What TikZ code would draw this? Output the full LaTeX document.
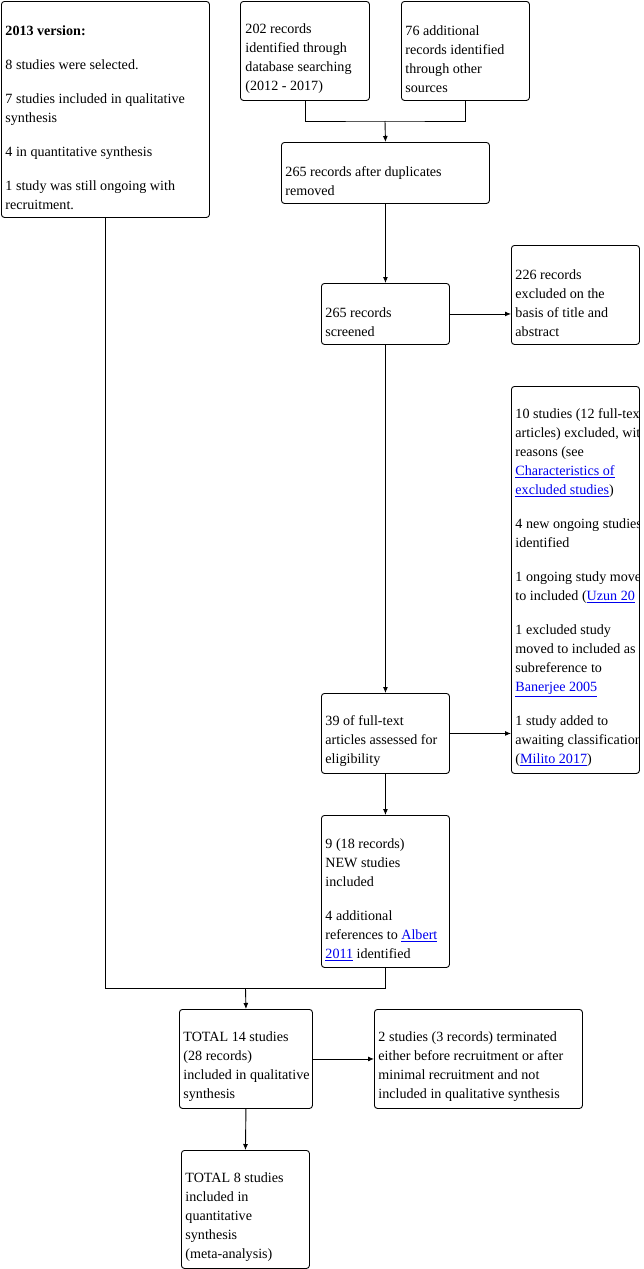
\documentclass[tikz,border=0pt]{standalone}
\usepackage{fontspec}
\setmainfont{Liberation Serif}
\usetikzlibrary{arrows.meta}
\definecolor{linkblue}{RGB}{0,0,238}
\newcommand{\reflink}[1]{{\color{linkblue}\underline{#1}}}

\begin{document}
\begin{tikzpicture}[x=1pt,y=-1pt,
                    box/.style={draw,rounded corners=3pt,anchor=north west,inner sep=0pt,line width=0.9pt},
                    txt/.style={anchor=west,inner sep=0pt,align=left,
                                font=\fontsize{14.1}{19}\selectfont},
                    arr/.style={-{Latex[length=6pt,width=5pt]},line width=0.9pt},
                    line width=0.9pt]
  \useasboundingbox (0,0) rectangle (643,1269);
  % boxes: top-left corner at pixel position, sizes in pixels
  \node[box,minimum width=208pt,minimum height=216pt] (ver)  at (1,1) {};
  \node[box,minimum width=129pt,minimum height=99pt]  (db)   at (240,1) {};
  \node[box,minimum width=128pt,minimum height=99pt]  (oth)  at (401,1) {};
  \node[box,minimum width=208pt,minimum height=61pt]  (dup)  at (281,142) {};
  \node[box,minimum width=128pt,minimum height=61pt]  (scr)  at (321,283) {};
  \node[box,minimum width=128pt,minimum height=99pt]  (exA)  at (511,245) {};
  \node[box,minimum width=128pt,minimum height=387pt] (exF)  at (511,386) {};
  \node[box,minimum width=128pt,minimum height=80pt]  (ft)   at (321,693) {};
  \node[box,minimum width=128pt,minimum height=152pt] (inc)  at (321,815) {};
  \node[box,minimum width=133pt,minimum height=99pt]  (qual) at (179,1009) {};
  \node[box,minimum width=208pt,minimum height=99pt]  (term) at (374,1009) {};
  \node[box,minimum width=128pt,minimum height=118pt] (quant) at (181,1150) {};

  % texts, a little below the middle of each box
  \node[txt] (verT) at ([shift={(4,8)}]ver.west) {\textbf{2013 version:}\\[15pt]
    8 studies were selected.\\[15pt]
    7 studies included in qualitative\\synthesis\\[15pt]
    4 in quantitative synthesis\\[15pt]
    1 study was still ongoing with\\recruitment.};
  \node[txt] (dbT)  at ([shift={(5,8)}]db.west) {202 records\\identified through\\database searching\\(2012 - 2017)};
  \node[txt] (othT) at ([shift={(4,8)}]oth.west) {76 additional\\records identified\\through other\\sources};
  \node[txt] (dupT) at ([shift={(4,8)}]dup.west) {265 records after duplicates\\removed};
  \node[txt] (scrT) at ([shift={(4,8)}]scr.west) {265 records\\screened};
  \node[txt] (exAT) at ([shift={(4,8)}]exA.west) {226 records\\excluded on the\\basis of title and\\abstract};
  \begin{scope}
    \clip (exF.north west) rectangle (exF.south east);
    \node[txt] (exFT) at ([shift={(4,8)}]exF.west) {10 studies (12 full-text\\articles) excluded, with\\reasons (see\\
      \reflink{Characteristics of}\\\reflink{excluded studies})\\[15pt]
      4 new ongoing studies\\identified\\[15pt]
      1 ongoing study moved\\to included (\reflink{Uzun 20}\\[15pt]
      1 excluded study\\moved to included as\\subreference to\\\reflink{Banerjee 2005}\\[15pt]
      1 study added to\\awaiting classification\\(\reflink{Milito 2017})};
  \end{scope}
  \node[txt] (ftT)  at ([shift={(4,8)}]ft.west) {39 of full-text\\articles assessed for\\eligibility};
  \node[txt] (incT) at ([shift={(4,8)}]inc.west) {9 (18 records)\\NEW studies\\included\\[15pt]
    4 additional\\references to \reflink{Albert}\\\reflink{2011} identified};
  \node[txt] (qualT) at ([shift={(4,8)}]qual.west) {TOTAL 14 studies\\(28 records)\\included in qualitative\\synthesis};
  \node[txt] (termT) at ([shift={(4,8)}]term.west) {2 studies (3 records) terminated\\either before recruitment or after\\minimal recruitment and not\\included in qualitative synthesis};
  \node[txt] (quantT) at ([shift={(4,8)}]quant.west) {TOTAL 8 studies\\included in\\quantitative\\synthesis\\(meta-analysis)};

  % connectors
  \coordinate (jn1) at (385,121);
  \coordinate (jn2) at (245.5,988);
  \draw (db.south) |- (jn1) -| (oth.south);
  \draw[arr] (jn1) -- (dup.north);
  \draw[arr] (dup.south) -- (scr.north);
  \draw[arr] (scr.east) -- (scr.east -| exA.west);
  \draw[arr] (scr.south) -- (ft.north);
  \draw[arr] (ft.east) -- (ft.east -| exF.west);
  \draw[arr] (ft.south) -- (inc.north);
  \draw (ver.south) |- (jn2) -| (inc.south);
  \draw[arr] (jn2) -- (qual.north);
  \draw[arr] (qual.east) -- (term.west);
  \draw[arr] (qual.south) -- (quant.north);
\end{tikzpicture}
\end{document}
